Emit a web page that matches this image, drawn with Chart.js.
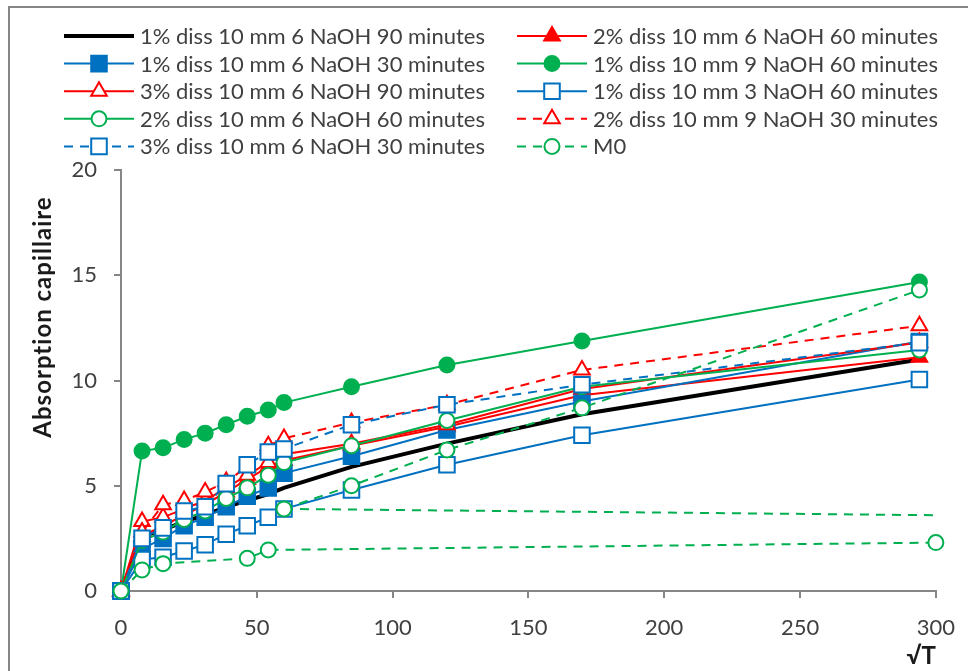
<!DOCTYPE html>
<html>
<head>
<meta charset="utf-8">
<script src="https://cdn.jsdelivr.net/npm/chart.js@4.4.1/dist/chart.umd.min.js"></script>
<style>
  html, body { margin: 0; padding: 0; background: #fff; }
  #wrap { width: 968px; height: 671px; }
</style>
</head>
<body>
<div id="wrap"><canvas id="c" width="968" height="671"></canvas></div>
<script>
// Square root of elapsed time (s^0.5): 1,4,9,16,25,36,49,60 min, then 2 h, 4 h, 8 h, 24 h
const sqrtT = [0, 7.75, 15.49, 23.24, 30.98, 38.73, 46.48, 54.22, 60, 84.85, 120, 169.71, 293.94];

// Capillary absorption per treatment
const d1_n6_90 = [0, 2.6, 2.9, 3.3, 3.6, 4.0, 4.3, 4.6, 4.9, 5.9, 7.0, 8.4, 11.0];
const d2_n6_60 = [0, 2.6, 3.1, 3.6, 4.1, 4.7, 5.3, 5.9, 6.2, 6.9, 7.8, 9.3, 11.1];
const d1_n6_30 = [0, 2.0, 2.5, 3.1, 3.5, 4.0, 4.5, 4.9, 5.6, 6.4, 7.65, 9.0, 11.85];
const d1_n9_60 = [0, 6.65, 6.8, 7.2, 7.5, 7.9, 8.3, 8.6, 8.95, 9.7, 10.74, 11.88, 14.68];
const d3_n6_90 = [0, 3.3, 3.5, 3.9, 4.3, 4.9, 5.5, 6.1, 6.5, 7.0, 7.9, 9.6, 11.8];
const d1_n3_60 = [0, 1.5, 1.6, 1.9, 2.2, 2.7, 3.1, 3.5, 3.9, 4.8, 6.0, 7.4, 10.05];
const d2_n6_60b = [0, 2.4, 2.8, 3.4, 3.8, 4.4, 4.9, 5.5, 6.1, 6.9, 8.1, 9.7, 11.45];
const d2_n9_30 = [0, 2.8, 4.1, 4.3, 4.7, 5.2, 5.9, 6.9, 7.25, 8.0, 8.85, 10.5, 12.6];
const d3_n6_30 = [0, 2.5, 3.0, 3.8, 4.0, 5.1, 6.0, 6.6, 6.75, 7.9, 8.85, 9.8, 11.8];

// Reference sample M0 (two recorded runs, separated by a gap)
const m0LowX = [0, 7.75, 15.49, 46.48, 54.22, 300];
const m0LowY = [0, 1.0, 1.3, 1.55, 1.95, 2.3];
const m0HighX = [60, 84.85, 120, 169.71, 293.94];
const m0HighY = [3.9, 5.0, 6.7, 8.7, 14.3];
const m0FlatX = [60, 300];
const m0FlatY = [3.9, 3.6];

const seriesLabels = [
  '1% diss 10 mm 6 NaOH 90 minutes',
  '2% diss 10 mm 6 NaOH 60 minutes',
  '1% diss 10 mm 6 NaOH 30 minutes',
  '1% diss 10 mm 9 NaOH 60 minutes',
  '3% diss 10 mm 6 NaOH 90 minutes',
  '1% diss 10 mm 3 NaOH 60 minutes',
  '2% diss 10 mm 6 NaOH 60 minutes',
  '2% diss 10 mm 9 NaOH 30 minutes',
  '3% diss 10 mm 6 NaOH 30 minutes',
  'M0'
];

const xTicks = [0, 50, 100, 150, 200, 250, 300];
const yTicks = [0, 5, 10, 15, 20];

const BLUE = '#0070C0', RED = '#FF0000', GREEN = '#00B050', BLACK = '#000000';
const FONT = "Lato, 'Open Sans', 'Liberation Sans', sans-serif";
const TEXT = '#404040';
const AXIS = '#868686';
const DASH = [9, 7];

function pts(xs, ys) { return xs.map((x, i) => ({ x: x, y: ys[i] })); }

// Marker style per series: [color, pointStyle, filled, dashed, lineWidth]
const styles = [
  [BLACK, false, true, false, 4],
  [RED, 'triangle', true, false, 2],
  [BLUE, 'rect', true, false, 2],
  [GREEN, 'circle', true, false, 2],
  [RED, 'triangle', false, false, 2],
  [BLUE, 'rect', false, false, 2],
  [GREEN, 'circle', false, false, 2],
  [RED, 'triangle', false, true, 2],
  [BLUE, 'rect', false, true, 2],
  [GREEN, 'circle', false, true, 2]
];
const markerRadius = { triangle: 9, rect: 11, circle: 7.5 };

const seriesData = [
  pts(sqrtT, d1_n6_90),
  pts(sqrtT, d2_n6_60),
  pts(sqrtT, d1_n6_30),
  pts(sqrtT, d1_n9_60),
  pts(sqrtT, d3_n6_90),
  pts(sqrtT, d1_n3_60),
  pts(sqrtT, d2_n6_60b),
  pts(sqrtT, d2_n9_30),
  pts(sqrtT, d3_n6_30),
  pts(m0LowX, m0LowY).concat([{ x: null, y: null }], pts(m0HighX, m0HighY))
];

const datasets = seriesData.map((data, i) => {
  const [color, ps, filled, dashed, lw] = styles[i];
  return {
    label: seriesLabels[i],
    data: data,
    showLine: true,
    spanGaps: false,
    clip: false,
    borderColor: color,
    borderWidth: lw,
    borderDash: dashed ? DASH : [],
    pointStyle: ps || 'circle',
    pointRadius: ps ? markerRadius[ps] : 0,
    pointBorderWidth: 2,
    pointBorderColor: color,
    pointBackgroundColor: filled ? color : '#ffffff',
    order: 20 - i
  };
});
// M0 level line after the first hour
datasets.push({
  label: 'M0 level',
  data: pts(m0FlatX, m0FlatY),
  showLine: true,
  clip: false,
  borderColor: GREEN,
  borderWidth: 2,
  borderDash: DASH,
  pointRadius: 0,
  order: 25
});

function drawMarker(ctx, style, x, y) {
  const [color, ps, filled] = style;
  if (!ps) return;
  const r = markerRadius[ps];
  ctx.save();
  ctx.fillStyle = filled ? color : '#ffffff';
  ctx.strokeStyle = color;
  ctx.lineWidth = 2;
  ctx.setLineDash([]);
  ctx.beginPath();
  if (ps === 'circle') {
    ctx.arc(x, y, r, 0, Math.PI * 2);
  } else if (ps === 'rect') {
    const s = r * Math.SQRT1_2;
    ctx.rect(x - s, y - s, 2 * s, 2 * s);
  } else if (ps === 'triangle') {
    const a = Math.PI * 2 / 3;
    ctx.moveTo(x, y - r);
    ctx.lineTo(x + Math.sin(a) * r, y - Math.cos(a) * r);
    ctx.lineTo(x + Math.sin(2 * a) * r, y - Math.cos(2 * a) * r);
    ctx.closePath();
  }
  ctx.fill();
  ctx.stroke();
  ctx.restore();
}

// Frame, legend block and axis titles
const decorations = {
  id: 'decorations',
  beforeDraw(chart) {
    const ctx = chart.ctx;
    ctx.save();
    ctx.fillStyle = '#ffffff';
    ctx.fillRect(0, 0, chart.width, chart.height);
    ctx.strokeStyle = AXIS;
    ctx.lineWidth = 2;
    ctx.strokeRect(9, 7, 980, 700);
    ctx.restore();
  },
  afterDraw(chart) {
    const ctx = chart.ctx;
    const area = chart.chartArea;
    ctx.save();
    // legend: two columns, five rows
    const colX = [64, 517];
    const rowY0 = 36, rowH = 27.6, lineLen = 70;
    ctx.font = '22px ' + FONT;
    ctx.textBaseline = 'middle';
    seriesLabels.forEach((label, i) => {
      const col = i % 2, row = Math.floor(i / 2);
      const x = colX[col], y = rowY0 + row * rowH;
      const st = styles[i];
      ctx.strokeStyle = st[0];
      ctx.lineWidth = st[4];
      ctx.setLineDash(st[3] ? DASH : []);
      ctx.beginPath();
      ctx.moveTo(x, y);
      ctx.lineTo(x + lineLen, y);
      ctx.stroke();
      ctx.setLineDash([]);
      drawMarker(ctx, st, x + lineLen / 2, y);
      ctx.fillStyle = TEXT;
      ctx.textAlign = 'left';
      ctx.fillText(label, x + lineLen + 6, y + 1);
    });
    // axis titles
    ctx.fillStyle = '#1a1a1a';
    ctx.font = 'bold 24px ' + FONT;
    ctx.textAlign = 'right';
    ctx.textBaseline = 'middle';
    ctx.fillText('\u221AT', area.right, 656);
    ctx.translate(43, 317);
    ctx.rotate(-Math.PI / 2);
    ctx.textAlign = 'center';
    if ('letterSpacing' in ctx) ctx.letterSpacing = '1px';
    ctx.fillText('Absorption capillaire', 0, 0);
    ctx.restore();
  }
};

new Chart(document.getElementById('c'), {
  type: 'scatter',
  data: { datasets: datasets },
  plugins: [decorations],
  options: {
    responsive: false,
    animation: false,
    devicePixelRatio: 1,
    layout: { padding: { left: 0, right: 32, top: 170, bottom: 0 } },
    plugins: { legend: { display: false }, tooltip: { enabled: false } },
    scales: {
      x: {
        type: 'linear',
        min: 0, max: 300,
        afterBuildTicks(scale) { scale.ticks = xTicks.map(v => ({ value: v })); },
        ticks: { color: TEXT, font: { family: FONT, size: 22, lineHeight: 1.55 }, padding: 13, maxRotation: 0 },
        grid: { drawOnChartArea: false, drawTicks: true, tickLength: 7, color: AXIS, lineWidth: 2 },
        border: { display: true, color: AXIS, width: 2 },
        afterFit(scale) { scale.height = 80; }
      },
      y: {
        type: 'linear',
        min: 0, max: 20,
        afterBuildTicks(scale) { scale.ticks = yTicks.map(v => ({ value: v })); },
        ticks: { color: TEXT, font: { family: FONT, size: 22 }, padding: 17 },
        grid: { drawOnChartArea: false, drawTicks: true, tickLength: 7, color: AXIS, lineWidth: 2 },
        border: { display: true, color: AXIS, width: 2 },
        afterFit(scale) { scale.width = 121; }
      }
    }
  }
});
</script>
</body>
</html>
